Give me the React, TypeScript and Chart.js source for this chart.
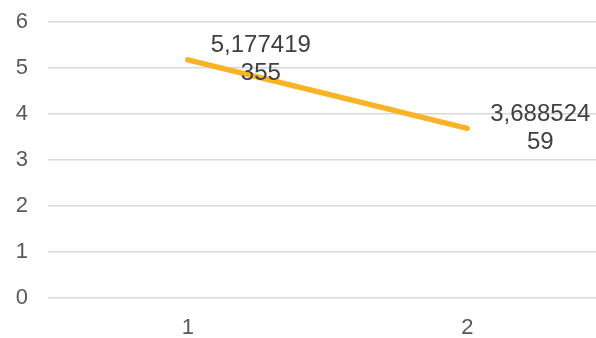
import React, { useEffect, useRef } from "react";
import { Chart, registerables } from "chart.js";

Chart.register(...registerables);

const categories = ["1", "2"];
const seriesValues = [5.177419355, 3.68852459];
const yTicks = [0, 1, 2, 3, 4, 5, 6];

const labelPlugin = {
  id: "excelLabels",
  afterDatasetsDraw(chart: any) {
    const ctx = chart.ctx;
    const meta = chart.getDatasetMeta(0);
    const data = chart.data.datasets[0].data as number[];
    ctx.save();
    ctx.font = "24px 'Liberation Sans', Arial, sans-serif";
    ctx.fillStyle = "#404040";
    ctx.textAlign = "center";
    ctx.textBaseline = "middle";
    meta.data.forEach((pt: any, i: number) => {
      const s = String(data[i]).replace(".", ",");
      const lines: string[] = [];
      for (let k = 0; k < s.length; k += 8) lines.push(s.slice(k, k + 8));
      const maxW = Math.max(...lines.map((l) => ctx.measureText(l).width));
      const cx = pt.x + 23 + maxW / 2;
      const lh = 28;
      const startY = pt.y - ((lines.length - 1) * lh) / 2;
      lines.forEach((l, j) => ctx.fillText(l, cx, startY + j * lh));
    });
    ctx.restore();
  },
};

export default function App() {
  const ref = useRef<HTMLCanvasElement | null>(null);
  useEffect(() => {
    if (!ref.current) return;
    const chart = new Chart(ref.current, {
      type: "line",
      data: {
        labels: categories,
        datasets: [
          {
            data: seriesValues,
            borderColor: "#F9B324",
            borderWidth: 5.5,
            borderCapStyle: "round",
            pointRadius: 0,
            fill: false,
            tension: 0,
          },
        ],
      },
      options: {
        animation: false,
        responsive: false,
        maintainAspectRatio: false,
        layout: { padding: { top: 22, left: 0, right: 0, bottom: 0 } },
        plugins: { legend: { display: false }, tooltip: { enabled: false } },
        scales: {
          x: {
            offset: true,
            grid: { display: false, drawTicks: false },
            border: { display: false },
            ticks: {
              color: "#595959",
              font: { family: "'Liberation Sans', Arial, sans-serif", size: 22 },
              padding: 17,
            },
            afterFit(scale: any) {
              scale.height = 40;
              scale.paddingLeft = 0;
              scale.paddingRight = 0;
            },
          },
          y: {
            min: 0,
            max: 6,
            afterBuildTicks(scale: any) {
              scale.ticks = yTicks.map((v) => ({ value: v }));
            },
            grid: { color: "#D9D9D9", lineWidth: 1.5, drawTicks: false },
            border: { display: false },
            ticks: {
              color: "#595959",
              font: { family: "'Liberation Sans', Arial, sans-serif", size: 22 },
              padding: 20,
            },
            afterFit(scale: any) {
              scale.width = 48;
              scale.paddingTop = 0;
              scale.paddingBottom = 0;
            },
          },
        },
      },
      plugins: [labelPlugin],
    });
    return () => chart.destroy();
  }, []);
  return (
    <div
      style={{
        position: "fixed",
        left: 0,
        top: 0,
        width: 596,
        height: 338,
        overflow: "hidden",
        background: "#fff",
      }}
    >
      <canvas ref={ref} width={607} height={338} style={{ width: 607, height: 338 }} />
    </div>
  );
}
